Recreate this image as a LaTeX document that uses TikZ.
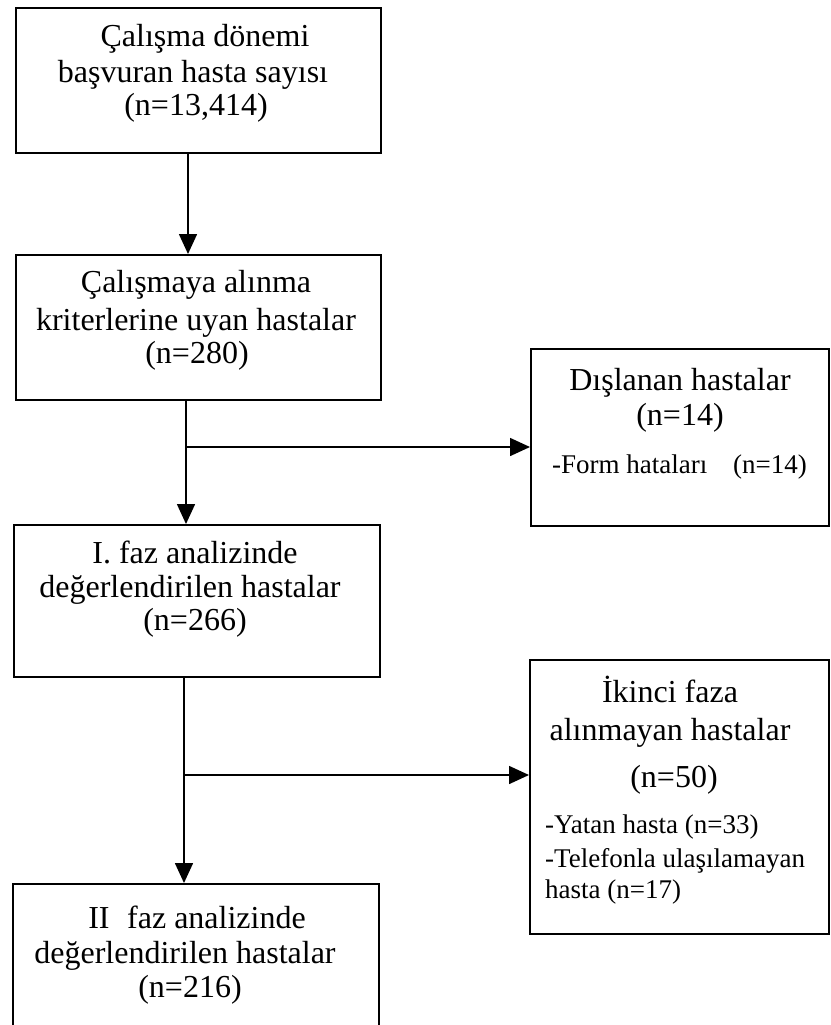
\documentclass[tikz,border=0pt]{standalone}
\usepackage{fontspec}
\setmainfont{Liberation Serif}
\usetikzlibrary{arrows.meta}
\tikzset{
  box/.style={draw, line width=1.6pt, inner sep=0pt, anchor=north west},
  big/.style={anchor=base, inner sep=0pt, font=\fontsize{32}{35}\selectfont},
  small/.style={anchor=base west, inner sep=0pt, font=\fontsize{27}{30}\selectfont},
  arr/.style={line width=1.6pt, -{Triangle[width=18pt,length=20pt]}}
}
\begin{document}
\begin{tikzpicture}[x=1pt,y=-1pt]
\useasboundingbox (0,0) rectangle (830,1025);
% boxes
\node[box, minimum width=365pt, minimum height=145pt] (b1) at (15,7) {};
\node[box, minimum width=365pt, minimum height=145pt] (b2) at (15,254) {};
\node[box, minimum width=298pt, minimum height=177pt] (b3) at (530,348) {};
\node[box, minimum width=366pt, minimum height=152pt] (b4) at (13,524) {};
\node[box, minimum width=299pt, minimum height=274pt] (b5) at (529,659) {};
\node[box, minimum width=366pt, minimum height=146pt] (b6) at (12,883) {};
% box 1
\node[big] (t11) at (205,47) {Çalışma dönemi};
\node[big] (t12) at (193,82) {başvuran hasta sayısı};
\node[big] (t13) at (196,115) {(n=13,414)};
% box 2
\node[big] (t21) at (196,292) {Çalışmaya alınma};
\node[big] (t22) at (196,330) {kriterlerine uyan hastalar};
\node[big] (t23) at (197,363) {(n=280)};
% box 3
\node[big] (t31) at (680,390) {Dışlanan hastalar};
\node[big] (t32) at (680,425) {(n=14)};
\node[small] (t33) at (552,473) {-Form hataları\hspace{0.7em} (n=14)};
% box 4
\node[big] (t41) at (195,563) {I. faz analizinde};
\node[big] (t42) at (190,597) {değerlendirilen hastalar};
\node[big] (t43) at (195,630) {(n=266)};
% box 5
\node[big] (t51) at (670,702) {İkinci faza};
\node[big] (t52) at (670,740) {alınmayan hastalar};
\node[big] (t53) at (674,787) {(n=50)};
\node[small] (t54) at (545,833) {-Yatan hasta (n=33)};
\node[small] (t55) at (545,867) {-Telefonla ulaşılamayan};
\node[small] (t56) at (545,898) {hasta (n=17)};
% box 6
\node[big] (t61) at (197,928) {II\hspace{0.3em} faz analizinde};
\node[big] (t62) at (185,963) {değerlendirilen hastalar};
\node[big] (t63) at (190,997) {(n=216)};
% connectors
\coordinate (c1) at (188,0);
\coordinate (c2) at (186,0);
\coordinate (c3) at (184,0);
\coordinate (j1) at (186,447);
\coordinate (j2) at (184,775);
\draw[arr] (b1.south -| c1) -- (b2.north -| c1);
\draw[arr] (b2.south -| c2) -- (b4.north -| c2);
\draw[arr] (j1) -- (j1 -| b3.west);
\draw[arr] (b4.south -| c3) -- (b6.north -| c3);
\draw[arr] (j2) -- (j2 -| b5.west);
\end{tikzpicture}
\end{document}
